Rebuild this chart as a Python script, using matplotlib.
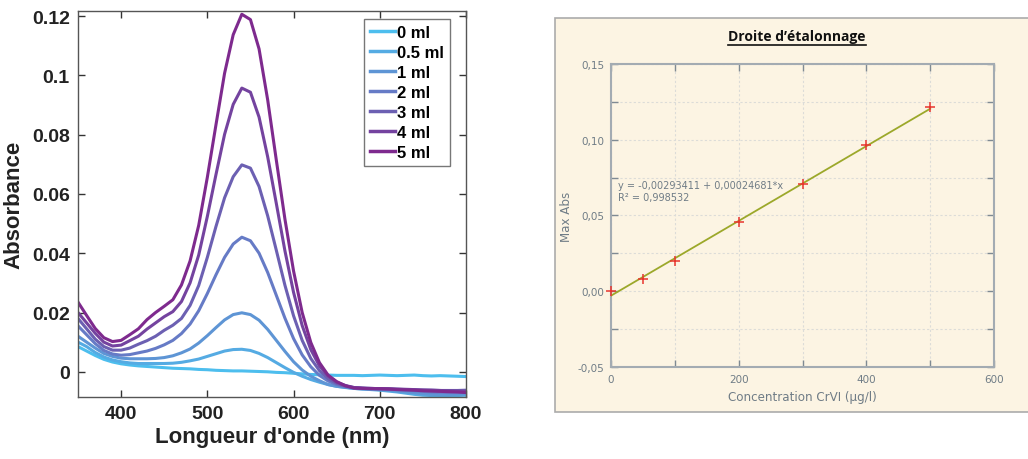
import numpy as np
import matplotlib
matplotlib.use("Agg")
import matplotlib.pyplot as plt
from matplotlib.patches import Rectangle
from matplotlib.lines import Line2D
from matplotlib.ticker import FuncFormatter, MultipleLocator

# --- spectra (every 10 nm) ---
wavelength = np.arange(350, 810, 10)

abs_0ml = [0.0085, 0.0070, 0.0055, 0.0042, 0.0033, 0.0027, 0.0023, 0.0020, 0.0018, 0.0016,
           0.0014, 0.0012, 0.0011, 0.0010, 0.0008, 0.0007, 0.0005, 0.0004, 0.0003, 0.0003,
           0.0002, 0.0001, 0.0000, -0.0002, -0.0003, -0.0005, -0.0007, -0.0009, -0.0010, -0.0011,
           -0.0012, -0.0012, -0.0012, -0.0013, -0.0012, -0.0011, -0.0012, -0.0013, -0.0012, -0.0011,
           -0.0013, -0.0014, -0.0013, -0.0014, -0.0015, -0.0016]
abs_05ml = [0.0100, 0.0085, 0.0065, 0.0050, 0.0040, 0.0034, 0.0030, 0.0028, 0.0028, 0.0028,
            0.0028, 0.0029, 0.0032, 0.0037, 0.0043, 0.0052, 0.0061, 0.0070, 0.0075, 0.0076,
            0.0072, 0.0062, 0.0048, 0.0031, 0.0014, -0.0002, -0.0015, -0.0026, -0.0035, -0.0043,
            -0.0049, -0.0053, -0.0056, -0.0058, -0.0060, -0.0062, -0.0065, -0.0068, -0.0072, -0.0076,
            -0.0079, -0.0080, -0.0081, -0.0081, -0.0080, -0.0079]
abs_1ml = [0.0120, 0.0100, 0.0080, 0.0062, 0.0052, 0.0046, 0.0044, 0.0044, 0.0044, 0.0045,
           0.0048, 0.0054, 0.0064, 0.0077, 0.0097, 0.0122, 0.0149, 0.0175, 0.0193, 0.0199,
           0.0193, 0.0174, 0.0143, 0.0106, 0.0069, 0.0034, 0.0006, -0.0015, -0.0030, -0.0043,
           -0.0049, -0.0052, -0.0056, -0.0058, -0.0059, -0.0060, -0.0062, -0.0065, -0.0068, -0.0071,
           -0.0074, -0.0076, -0.0077, -0.0077, -0.0076, -0.0075]
abs_2ml = [0.0155, 0.0125, 0.0095, 0.0072, 0.0060, 0.0056, 0.0058, 0.0064, 0.0070, 0.0079,
           0.0091, 0.0106, 0.0129, 0.0161, 0.0206, 0.0264, 0.0327, 0.0386, 0.0431, 0.0454,
           0.0442, 0.0400, 0.0335, 0.0258, 0.0181, 0.0112, 0.0057, 0.0017, -0.0012, -0.0031,
           -0.0043, -0.0050, -0.0054, -0.0056, -0.0057, -0.0058, -0.0059, -0.0060, -0.0062, -0.0064,
           -0.0066, -0.0068, -0.0069, -0.0070, -0.0070, -0.0070]
abs_3ml = [0.0180, 0.0145, 0.0110, 0.0085, 0.0073, 0.0073, 0.0080, 0.0093, 0.0105, 0.0120,
           0.0140, 0.0157, 0.0180, 0.0224, 0.0291, 0.0386, 0.0490, 0.0587, 0.0658, 0.0698,
           0.0687, 0.0625, 0.0526, 0.0410, 0.0292, 0.0189, 0.0106, 0.0045, 0.0004, -0.0023,
           -0.0039, -0.0048, -0.0053, -0.0055, -0.0056, -0.0057, -0.0058, -0.0059, -0.0060, -0.0061,
           -0.0062, -0.0062, -0.0063, -0.0063, -0.0063, -0.0062]
abs_4ml = [0.0200, 0.0165, 0.0130, 0.0100, 0.0087, 0.0090, 0.0105, 0.0120, 0.0144, 0.0165,
           0.0186, 0.0203, 0.0237, 0.0300, 0.0394, 0.0524, 0.0665, 0.0801, 0.0902, 0.0957,
           0.0943, 0.0859, 0.0725, 0.0568, 0.0408, 0.0268, 0.0156, 0.0075, 0.0020, -0.0014,
           -0.0035, -0.0046, -0.0053, -0.0055, -0.0056, -0.0057, -0.0057, -0.0058, -0.0059, -0.0060,
           -0.0061, -0.0062, -0.0063, -0.0064, -0.0065, -0.0066]
abs_5ml = [0.0235, 0.0190, 0.0146, 0.0115, 0.0102, 0.0106, 0.0125, 0.0145, 0.0176, 0.0200,
           0.0221, 0.0243, 0.0293, 0.0374, 0.0494, 0.0656, 0.0833, 0.1007, 0.1137, 0.1206,
           0.1188, 0.1089, 0.0917, 0.0714, 0.0515, 0.0340, 0.0200, 0.0099, 0.0031, -0.0011,
           -0.0033, -0.0047, -0.0055, -0.0056, -0.0057, -0.0057, -0.0058, -0.0060, -0.0061, -0.0062,
           -0.0064, -0.0065, -0.0066, -0.0067, -0.0068, -0.0070]

spectra = [abs_0ml, abs_05ml, abs_1ml, abs_2ml, abs_3ml, abs_4ml, abs_5ml]
labels = ['0 ml', '0.5 ml', '1 ml', '2 ml', '3 ml', '4 ml', '5 ml']
colors = ['#4DBEEE', '#55ABE3', '#5E95D5', '#667BC6', '#6C60B2', '#74439F', '#7E2A8E']

# --- calibration ---
conc = [0, 50, 100, 200, 300, 400, 500]
max_abs = [0.0, 0.0080, 0.0200, 0.0454, 0.0705, 0.0965, 0.1213]
fit_x = [0, 500]
fit_y = [-0.00293, 0.12047]
fit_text = "y = -0,00293411 + 0,00024681*x\nR\u00b2 = 0,998532"

W, H = 1028, 460
fig = plt.figure(figsize=(W / 100, H / 100), dpi=100)

def fbox(l, t, r, b):
    return [l / W, 1 - b / H, (r - l) / W, (b - t) / H]

# ---------------- left: spectra ----------------
bold = dict(family='Liberation Sans', weight='bold')
ax1 = fig.add_axes(fbox(78, 12, 466, 398))
for y, lab, c in zip(spectra, labels, colors):
    ax1.plot(wavelength, y, color=c, lw=2.2, label=lab)
ax1.set_xlim(350, 800)
ax1.set_ylim(-0.0085, 0.1217)
ax1.set_xticks([400, 500, 600, 700, 800])
ax1.set_yticks([0, 0.02, 0.04, 0.06, 0.08, 0.1, 0.12])
ax1.yaxis.set_major_formatter(FuncFormatter(lambda v, p: '%g' % round(v, 3)))
ax1.tick_params(direction='in', top=True, right=True, length=5, width=1,
                color='#333333', pad=6)
for t in ax1.get_xticklabels() + ax1.get_yticklabels():
    t.set_fontproperties(bold)
    t.set_fontsize(14)
    t.set_color('#222222')
for s in ax1.spines.values():
    s.set_color('#555555')
    s.set_linewidth(1.0)
ax1.set_xlabel("Longueur d'onde (nm)", fontsize=16, labelpad=3, color='#222222', **bold)
ax1.set_ylabel("Absorbance", fontsize=16, labelpad=5, color='#222222', **bold)
leg = ax1.legend(loc='upper right', bbox_to_anchor=(0.967, 0.988), fancybox=False,
                 handlelength=1.5, handletextpad=0.15, labelspacing=0.3,
                 borderpad=0.35, borderaxespad=0.2,
                 prop=dict(family='Liberation Sans', weight='bold', size=12))
leg.get_frame().set_edgecolor('#555555')
leg.get_frame().set_linewidth(1.0)
for h in leg.get_lines():
    h.set_linewidth(2.5)

# ---------------- right: calibration ----------------
beige = '#FCF4E3'
grey = '#6F7C86'
frame = Rectangle((555 / W, 1 - 413 / H), 1.0, (413 - 19) / H, transform=fig.transFigure,
                  facecolor=beige, edgecolor='#ABABAB', linewidth=1.2, zorder=-1)
fig.patches.append(frame)

ax2 = fig.add_axes(fbox(611, 65, 994, 368))
ax2.set_facecolor(beige)
ax2.plot(fit_x, fit_y, color='#9CA82A', lw=1.3, zorder=3)
ax2.plot(conc, max_abs, '+', color='#E8352E', ms=7.5, mew=1.1, zorder=4, clip_on=False)
ax2.set_xlim(0, 600)
ax2.set_ylim(-0.05, 0.15)
ax2.xaxis.set_major_locator(MultipleLocator(200))
ax2.xaxis.set_minor_locator(MultipleLocator(100))
ax2.yaxis.set_major_locator(MultipleLocator(0.05))
ax2.yaxis.set_minor_locator(MultipleLocator(0.025))
ax2.yaxis.set_major_formatter(FuncFormatter(lambda v, p: ('%.2f' % v).replace('.', ',').replace('-0,00', '0,00')))
ax2.grid(which='both', color='#DCDCD8', lw=0.8, ls=(0, (2, 2)))
ax2.set_axisbelow(True)
ax2.tick_params(which='both', direction='in', top=True, right=True, length=5, width=1,
                color='#7F8A93', labelcolor=grey, labelsize=7.5, pad=5)
for s in ax2.spines.values():
    s.set_color('#A3ABB2')
    s.set_linewidth(1.5)
ax2.set_xlabel("Concentration CrVI (\u00b5g/l)", fontsize=8.6, color=grey, labelpad=4)
ax2.set_ylabel("Max Abs", fontsize=8.6, color=grey, labelpad=3)
ax2.text(0.018, 0.617, fit_text, transform=ax2.transAxes, fontsize=7.0, color=grey,
         va='top', ha='left', linespacing=1.3)

title = fig.text(797 / W, 1 - 37 / H, "Droite d\u2019\u00e9talonnage", ha='center', va='center',
                 fontsize=10, fontweight='bold', family='Open Sans', color='#111111')
fig.canvas.draw()
bb = title.get_window_extent()
uy = (bb.y0 - 1.5) / H
fig.add_artist(Line2D([bb.x0 / W, bb.x1 / W], [uy, uy], transform=fig.transFigure,
                      color='#111111', lw=1.2))

fig.savefig('out.png', dpi=100, facecolor='white')
